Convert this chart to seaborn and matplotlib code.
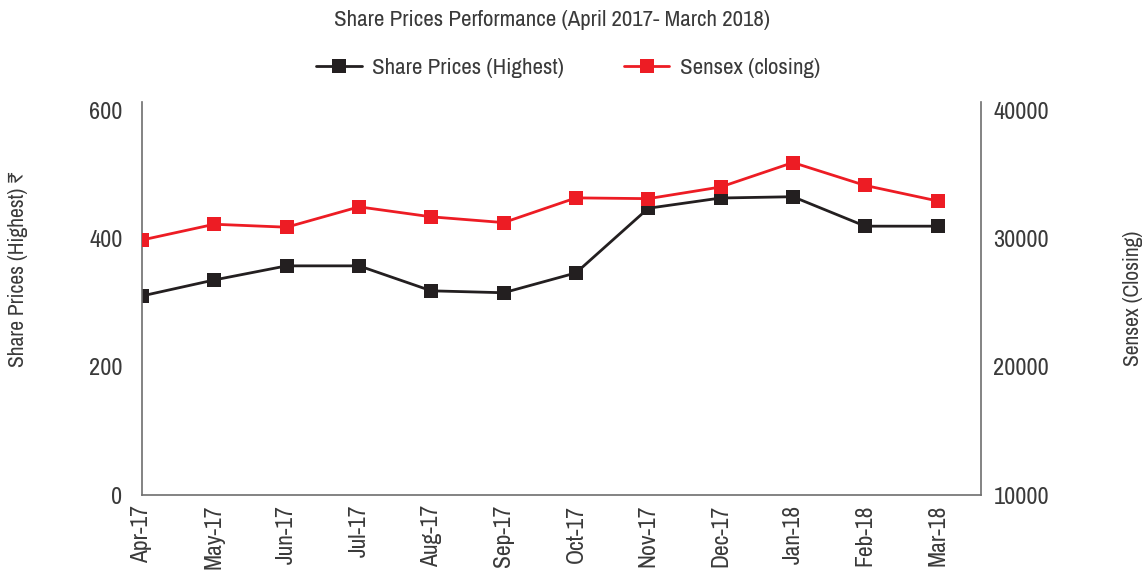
import numpy as np
import pandas as pd
import matplotlib
matplotlib.use("Agg")
import matplotlib.pyplot as plt
from matplotlib import font_manager
import seaborn as sns

months = ["Apr-17", "May-17", "Jun-17", "Jul-17", "Aug-17", "Sep-17",
          "Oct-17", "Nov-17", "Dec-17", "Jan-18", "Feb-18", "Mar-18"]
share_high = [311, 336, 358, 358, 319, 316, 347, 448, 464, 466, 420, 420]
sensex_close = [29920, 31150, 30920, 32510, 31730, 31280,
                33210, 33150, 34060, 35970, 34180, 32970]

# pick a narrow font if there is one, the original uses a condensed face
names = sorted({f.name for f in font_manager.fontManager.ttflist})
narrow = [n for n in names if "Narrow" in n or "Condensed" in n]
main_font = narrow[0] if narrow else "Liberation Sans"

sns.set_theme(style="white")
plt.rcParams['font.family'] = [main_font, 'DejaVu Sans']
text_col = "#3a3a3a"
red = "#ED1C24"
black = "#231F20"

df = pd.DataFrame({"pos": np.arange(len(months)), "month": months,
                   "share": share_high, "sensex": sensex_close})

fig = plt.figure(figsize=(11.46, 5.71), dpi=100)
ax = fig.add_axes([142 / 1146, 1 - 495 / 571, 839 / 1146, 393 / 571])
ax2 = ax.twinx()

sns.lineplot(data=df, x="pos", y="share", ax=ax, color=black, marker="s",
             markersize=9.5, markeredgewidth=0, linewidth=2,
             label="Share Prices (Highest)", legend=False)
sns.lineplot(data=df, x="pos", y="sensex", ax=ax2, color=red, marker="s",
             markersize=9.5, markeredgewidth=0, linewidth=2,
             label="Sensex (closing)", legend=False)

ax.set_xlim(0, 11.6)
ax.set_ylim(0, 614)
ax2.set_ylim(10000, 40700)
ax.set_yticks([0, 200, 400, 600])
ax2.set_yticks([10000, 20000, 30000, 40000])
ax.set_xticks(df["pos"])
ax.set_xticklabels(months, rotation=90, fontsize=17, color=text_col)
ax.tick_params(axis="x", length=0, pad=7, labelsize=17, labelcolor=text_col)
ax.tick_params(axis="y", length=0, pad=14, labelsize=17.5, labelcolor=text_col)
ax2.tick_params(axis="y", length=0, pad=9, labelsize=17.5, labelcolor=text_col)

for a in (ax, ax2):
    for s in a.spines.values():
        s.set_visible(False)
ax.spines["left"].set_visible(True)
ax.spines["bottom"].set_visible(True)
ax2.spines["right"].set_visible(True)
for s in (ax.spines["left"], ax.spines["bottom"], ax2.spines["right"]):
    s.set_color("#6e6e6e")
    s.set_linewidth(1.2)

ax.set_xlabel("")
ax.set_ylabel("Share Prices (Highest) ₹", fontsize=15.5, color=text_col)
ax.yaxis.set_label_coords(-0.136, 0.575)
ax2.set_ylabel("Sensex (Closing)", fontsize=15.5, color=text_col)
ax2.yaxis.set_label_coords(1.169, 0.50)

fig.text(552 / 1146, 1 - 20 / 571, "Share Prices Performance (April 2017- March 2018)",
         ha="center", va="center", fontsize=16.5, color=text_col)

h1, l1 = ax.get_legend_handles_labels()
h2, l2 = ax2.get_legend_handles_labels()
fig.legend(h1 + h2, l1 + l2, loc="center", bbox_to_anchor=(568 / 1146, 1 - 68 / 571),
           ncol=2, frameon=False, fontsize=16.5, handlelength=2.0, handletextpad=0.45,
           columnspacing=2.6, labelcolor=text_col)

fig.savefig("out.png", dpi=100)
